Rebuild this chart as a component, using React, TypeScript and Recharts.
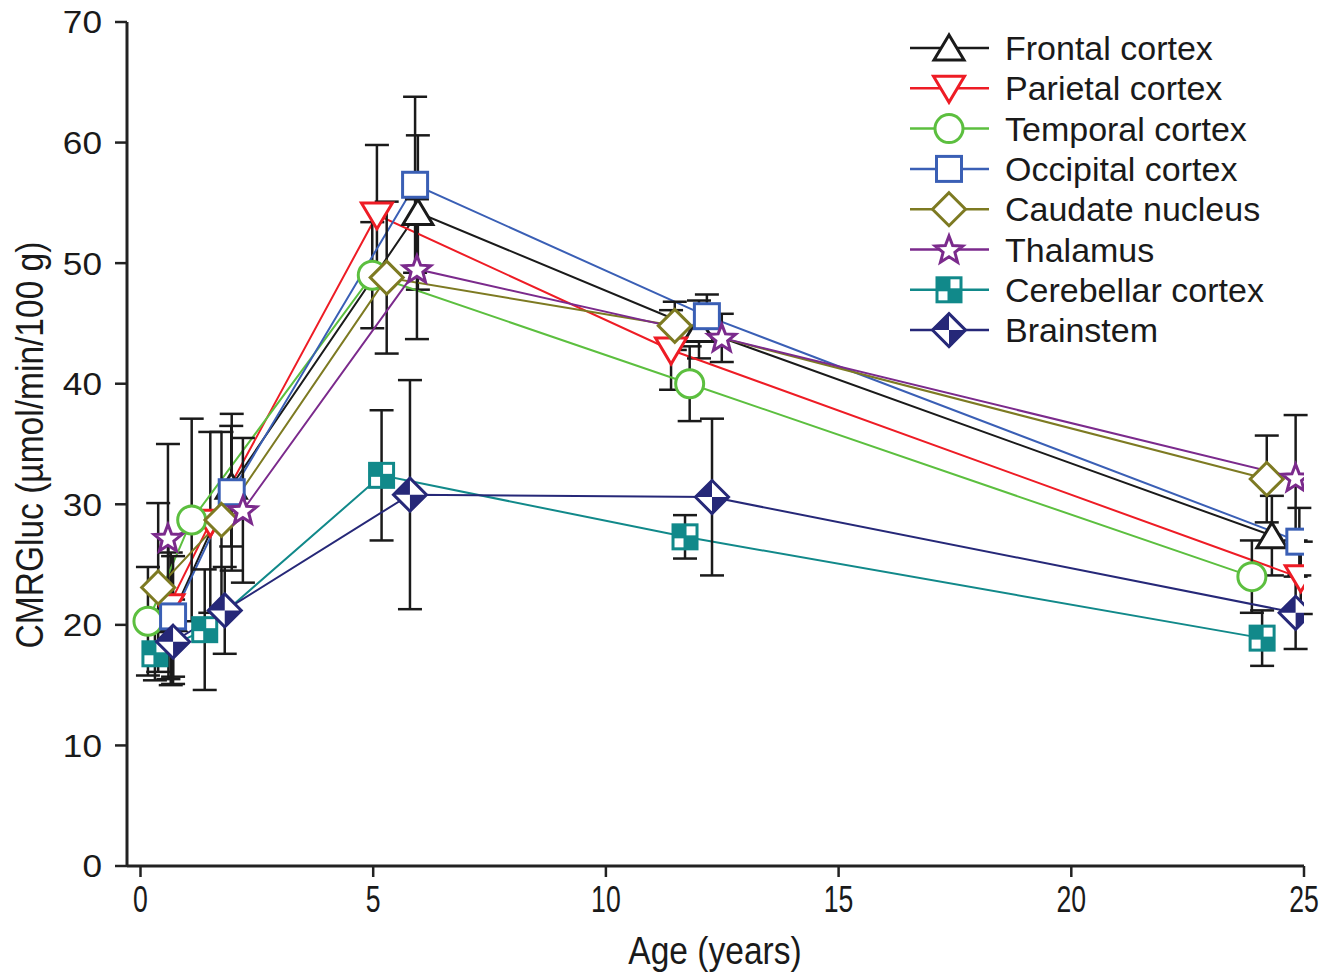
import React from 'react';
import { LineChart, Line, XAxis, YAxis, ErrorBar, Label } from 'recharts';

// ---- data (age in years, CMRGluc in µmol/min/100 g, SD) ----
const frontalX = [0.65, 1.95, 5.96, 12.0, 24.31];
const frontalY = [20.5, 31.5, 54.2, 44.5, 27.4];
const frontalErr = [5.5, 5.0, 6.4, 2.4, 3.3];

const parietalX = [0.6, 1.5, 5.08, 11.4, 24.93];
const parietalY = [21.5, 28.5, 54.0, 42.8, 23.9];
const parietalErr = [6.0, 7.5, 5.8, 3.3, 3.0];

const temporalX = [0.16, 1.1, 4.98, 11.8, 23.88];
const temporalY = [20.3, 28.7, 49.0, 40.0, 24.0];
const temporalErr = [4.5, 8.4, 4.4, 3.1, 3.0];

const occipitalX = [0.7, 1.96, 5.9, 12.17, 24.9];
const occipitalY = [20.7, 31.0, 56.5, 45.6, 26.9];
const occipitalErr = [5.0, 6.5, 7.3, 1.8, 2.8];

const caudateX = [0.38, 1.74, 5.29, 11.48, 24.2];
const caudateY = [23.1, 28.7, 48.8, 44.8, 32.1];
const caudateErr = [7.0, 7.3, 6.3, 2.0, 3.6];

const thalamusX = [0.59, 2.2, 5.94, 12.49, 24.82];
const thalamusY = [27.2, 29.5, 49.5, 43.8, 32.2];
const thalamusErr = [7.8, 6.0, 5.8, 2.0, 5.2];

const cerebellarX = [0.31, 1.38, 5.18, 11.7, 24.1];
const cerebellarY = [17.6, 19.6, 32.4, 27.3, 18.9];
const cerebellarErr = [2.2, 5.0, 5.4, 1.8, 2.3];

const brainstemX = [0.7, 1.81, 5.79, 12.28, 24.82];
const brainstemY = [18.6, 21.2, 30.8, 30.6, 21.0];
const brainstemErr = [3.5, 3.6, 9.5, 6.5, 3.0];

const seriesNames = [
  'Frontal cortex',
  'Parietal cortex',
  'Temporal cortex',
  'Occipital cortex',
  'Caudate nucleus',
  'Thalamus',
  'Cerebellar cortex',
  'Brainstem',
];
const seriesColors = ['#1a1a1a', '#ee1c25', '#5cbf3f', '#3a5fb5', '#7d7a22', '#7b2a8c', '#11898a', '#262878'];
const seriesMarkers = ['triUp', 'triDown', 'circle', 'square', 'diamond', 'star', 'cereb', 'brain'];
const seriesX = [frontalX, parietalX, temporalX, occipitalX, caudateX, thalamusX, cerebellarX, brainstemX];
const seriesY = [frontalY, parietalY, temporalY, occipitalY, caudateY, thalamusY, cerebellarY, brainstemY];
const seriesErr = [frontalErr, parietalErr, temporalErr, occipitalErr, caudateErr, thalamusErr, cerebellarErr, brainstemErr];

const xTicks = [0, 5, 10, 15, 20, 25];
const yTicks = [0, 10, 20, 30, 40, 50, 60, 70];

const series = seriesNames.map((name, i) => ({
  name,
  color: seriesColors[i],
  marker: seriesMarkers[i],
  data: seriesX[i].map((x, j) => ({ x, y: seriesY[i][j], e: seriesErr[i][j] })),
}));

const SANS = "'Liberation Sans', Arial, Helvetica, sans-serif";

function starPoints(cx: number, cy: number, ro: number, ri: number) {
  const pts: string[] = [];
  for (let k = 0; k < 10; k++) {
    const r = k % 2 === 0 ? ro : ri;
    const a = -Math.PI / 2 + (k * Math.PI) / 5;
    pts.push(`${cx + r * Math.cos(a)},${cy + r * Math.sin(a)}`);
  }
  return pts.join(' ');
}

function Marker({ kind, color, cx, cy }: { kind: string; color: string; cx: number; cy: number }) {
  const sw = 3;
  switch (kind) {
    case 'triUp':
      return (
        <polygon
          points={`${cx},${cy - 13} ${cx - 15},${cy + 12} ${cx + 15},${cy + 12}`}
          fill="#fff"
          stroke={color}
          strokeWidth={sw}
        />
      );
    case 'triDown':
      return (
        <polygon
          points={`${cx - 15.5},${cy - 12} ${cx + 15.5},${cy - 12} ${cx},${cy + 14}`}
          fill="#fff"
          stroke={color}
          strokeWidth={sw}
        />
      );
    case 'circle':
      return <circle cx={cx} cy={cy} r={14} fill="#fff" stroke={color} strokeWidth={sw} />;
    case 'square':
      return <rect x={cx - 12.5} y={cy - 12.5} width={25} height={25} fill="#fff" stroke={color} strokeWidth={sw} />;
    case 'diamond':
      return (
        <polygon
          points={`${cx},${cy - 16.5} ${cx + 16.5},${cy} ${cx},${cy + 16.5} ${cx - 16.5},${cy}`}
          fill="#fff"
          stroke={color}
          strokeWidth={sw}
        />
      );
    case 'star':
      return <polygon points={starPoints(cx, cy + 1, 14.5, 6.2)} fill="#fff" stroke={color} strokeWidth={sw} />;
    case 'cereb':
      return (
        <g>
          <rect x={cx - 13.5} y={cy - 13.5} width={27} height={27} fill={color} />
          <rect x={cx + 1.5} y={cy - 10.5} width={9} height={9} fill="#fff" />
          <rect x={cx - 10.5} y={cy + 1.5} width={9} height={9} fill="#fff" />
        </g>
      );
    case 'brain':
      return (
        <g>
          <polygon
            points={`${cx},${cy - 16.5} ${cx + 16.5},${cy} ${cx},${cy + 16.5} ${cx - 16.5},${cy}`}
            fill="#fff"
            stroke={color}
            strokeWidth={sw}
          />
          <polygon points={`${cx},${cy - 16.5} ${cx},${cy} ${cx - 16.5},${cy}`} fill={color} />
          <polygon points={`${cx},${cy} ${cx + 16.5},${cy} ${cx},${cy + 16.5}`} fill={color} />
        </g>
      );
    default:
      return null;
  }
}

// condensed-looking x tick labels
function XTick(props: any) {
  const { x, y, payload } = props;
  return (
    <g transform={`translate(${x},${y}) scale(0.72,1)`}>
      <text x={0} y={0} dy="0.71em" textAnchor="middle" fontSize={37} fill="#1a1a1a" fontFamily={SANS}>
        {payload.value}
      </text>
    </g>
  );
}

// slightly wide y tick labels
function YTick(props: any) {
  const { x, y, payload } = props;
  return (
    <g transform={`translate(${x},${y}) scale(1.1,1)`}>
      <text x={0} y={0} dy="0.355em" textAnchor="end" fontSize={32} fill="#1a1a1a" fontFamily={SANS}>
        {payload.value}
      </text>
    </g>
  );
}

const legendTop = 48;
const legendStep = 40.3;

export default function App() {
  return (
    <div style={{ position: 'absolute', left: 0, top: 0, width: 1342, height: 976, background: '#fff' }}>
      <LineChart
        width={1342}
        height={976}
        margin={{ top: 22, right: 38, bottom: 40, left: 27 }}
      >
        <XAxis
          type="number"
          dataKey="x"
          domain={[-0.29, 25]}
          ticks={xTicks}
          allowDataOverflow
          height={70}
          axisLine={{ stroke: '#222', strokeWidth: 3 }}
          tickLine={{ stroke: '#222', strokeWidth: 2.5 }}
          tickSize={11}
          tickMargin={9}
          tick={<XTick />}
        >
          <Label
            content={() => (
              <g transform="translate(715,951) scale(0.86,1)">
                <text x={0} y={0} textAnchor="middle" dominantBaseline="central" fontSize={39} fill="#1a1a1a" fontFamily={SANS}>
                  Age (years)
                </text>
              </g>
            )}
          />
        </XAxis>
        <YAxis
          type="number"
          domain={[0, 70]}
          ticks={yTicks}
          allowDataOverflow
          width={100}
          axisLine={{ stroke: '#222', strokeWidth: 3 }}
          tickLine={{ stroke: '#222', strokeWidth: 2.5 }}
          tickSize={12}
          tickMargin={13}
          tick={<YTick />}
        >
          <Label
            content={() => (
              <g transform="translate(30,445) rotate(-90) scale(0.86,1)">
                <text x={0} y={0} textAnchor="middle" dominantBaseline="central" fontSize={39} fill="#1a1a1a" fontFamily={SANS}>
                  CMRGluc (µmol/min/100 g)
                </text>
              </g>
            )}
          />
        </YAxis>
        {series.map((s) => (
          <Line
            key={s.name}
            data={s.data}
            dataKey="y"
            name={s.name}
            stroke={s.color}
            strokeWidth={2}
            isAnimationActive={false}
            dot={(p: any) => (
              <g key={`${s.name}-${p.index}`}>
                <Marker kind={s.marker} color={s.color} cx={p.cx} cy={p.cy} />
              </g>
            )}
            activeDot={false}
          >
            <ErrorBar dataKey="e" direction="y" width={12} stroke="#1a1a1a" strokeWidth={2.5} isAnimationActive={false} />
          </Line>
        ))}
      </LineChart>
      <svg
        width={1342}
        height={976}
        style={{ position: 'absolute', left: 0, top: 0, pointerEvents: 'none' }}
      >
        {series.map((s, i) => {
          const cy = legendTop + i * legendStep;
          return (
            <g key={s.name}>
              <line x1={910} x2={989} y1={cy} y2={cy} stroke={s.color} strokeWidth={2.5} />
              <Marker kind={s.marker} color={s.color} cx={949} cy={cy} />
              <text x={1005} y={cy} dominantBaseline="central" fontSize={34} fill="#1a1a1a" fontFamily={SANS}>
                {s.name}
              </text>
            </g>
          );
        })}
      </svg>
    </div>
  );
}
